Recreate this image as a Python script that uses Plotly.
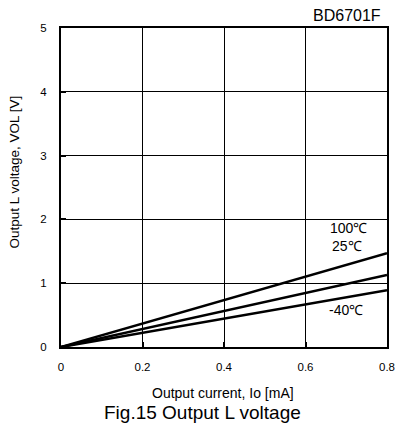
import plotly.graph_objects as go

# Output L voltage vs output current at three ambient temperatures
current_ma = [0.0, 0.8]
vol_100c = [0.0, 1.47]
vol_25c = [0.0, 1.13]
vol_m40c = [0.0, 0.89]

x_ticks = [0, 0.2, 0.4, 0.6, 0.8]
x_tick_text = ["0", "0.2", "0.4", "0.6", "0.8"]
y_ticks = [0, 1, 2, 3, 4, 5]

FONT = "Liberation Sans, Arial, sans-serif"

fig = go.Figure()
for ys in (vol_100c, vol_25c, vol_m40c):
    fig.add_trace(go.Scatter(x=current_ma, y=ys, mode="lines",
                             line=dict(color="black", width=2.5),
                             showlegend=False, hoverinfo="skip"))

axis_common = dict(
    showline=True, linecolor="black", linewidth=2, mirror=True,
    showgrid=True, gridcolor="black", gridwidth=1,
    zeroline=False, ticks="inside", ticklen=5, tickwidth=1.5, tickcolor="black",
    tickfont=dict(family=FONT, size=11.5, color="black"),
)

fig.update_xaxes(range=[0, 0.8], tickvals=x_ticks, ticktext=x_tick_text,
                 ticklabelstandoff=8, **axis_common)
fig.update_yaxes(range=[0, 5], tickvals=y_ticks,
                 ticklabelstandoff=10, **axis_common)

# Temperature labels next to the curves
labels = [("100℃", 0.655, 1.865), ("25℃", 0.66, 1.583), ("-40℃", 0.652, 0.58)]
for text, x, y in labels:
    fig.add_annotation(x=x, y=y, text=text, showarrow=False, xanchor="left",
                       font=dict(family=FONT, size=14, color="black"))

# Axis titles
fig.add_annotation(x=0.497, y=0, xref="paper", yref="paper", yshift=-46,
                   xanchor="center", yanchor="middle", text="Output current, Io [mA]",
                   showarrow=False, font=dict(family=FONT, size=14, color="black"))
fig.add_annotation(x=0, y=0.547, xref="paper", yref="paper", xshift=-46,
                   xanchor="center", yanchor="middle", textangle=-90,
                   text="Output L voltage, VOL [V]",
                   showarrow=False, font=dict(family=FONT, size=13.5, color="black"))

fig.add_annotation(x=1.0, y=1.0, xref="paper", yref="paper", xshift=-4, yshift=13,
                   xanchor="right", yanchor="middle", text="BD6701F",
                   showarrow=False, font=dict(family=FONT, size=16, color="black"))
fig.add_annotation(x=0.435, y=0, xref="paper", yref="paper", yshift=-65,
                   xanchor="center", yanchor="middle", text="Fig.15 Output L voltage",
                   showarrow=False, font=dict(family=FONT, size=19, color="black"))

fig.update_layout(width=411, height=434,
                  margin=dict(l=61, r=24, t=28, b=87),
                  plot_bgcolor="white", paper_bgcolor="white")

fig.write_html("out.html")
